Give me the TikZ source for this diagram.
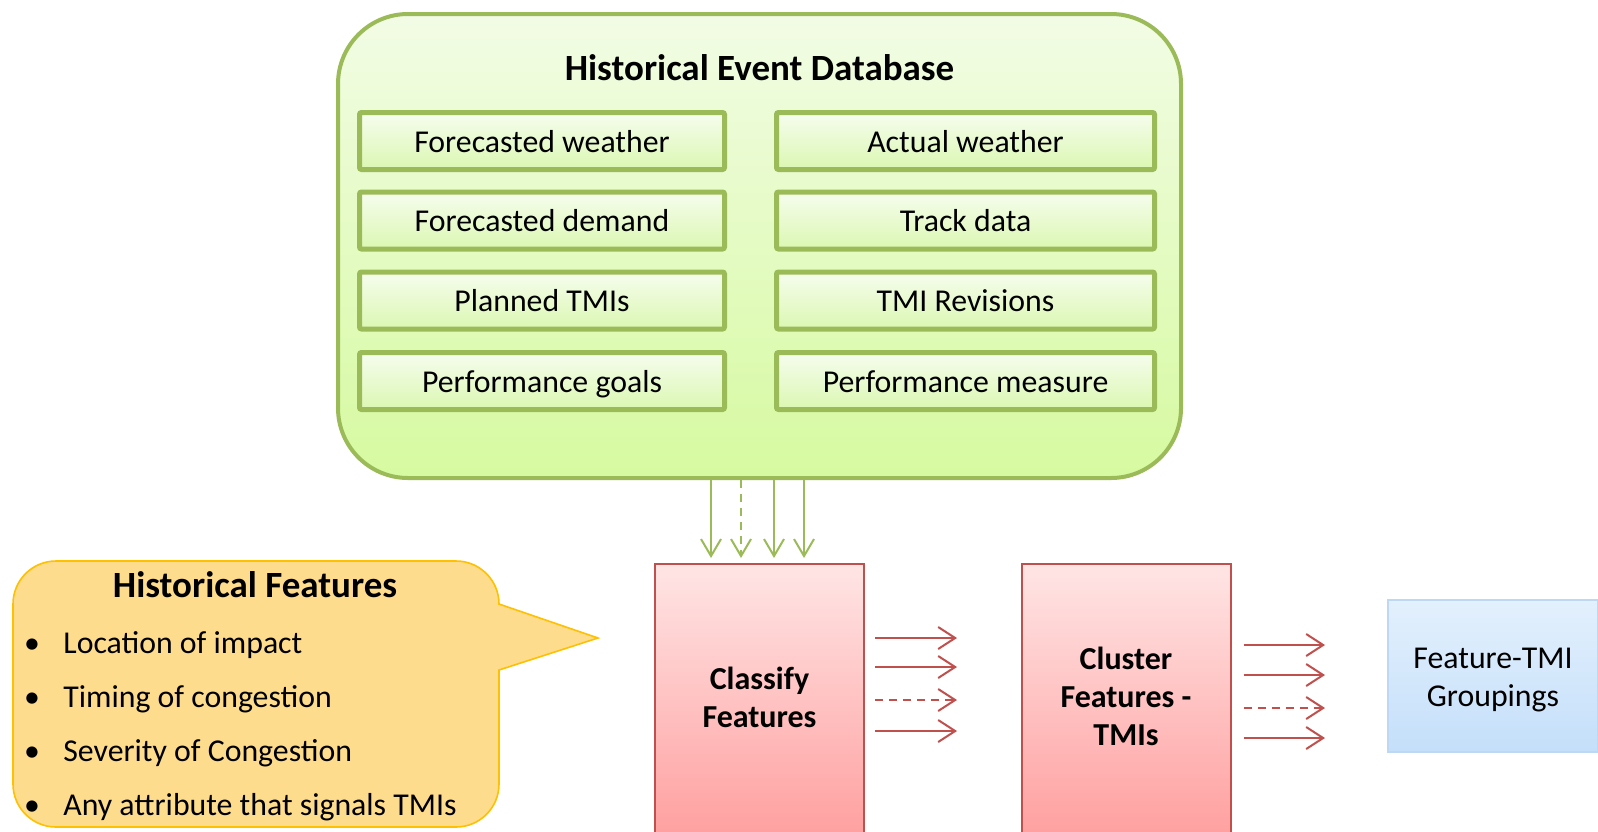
\documentclass[tikz,border=0pt]{standalone}
\usepackage{fontspec}
\setmainfont{Carlito}
\usetikzlibrary{arrows.meta}

\definecolor{gline}{RGB}{155,187,89}
\definecolor{dbtop}{RGB}{242,252,229}
\definecolor{dbbot}{RGB}{214,250,160}
\definecolor{itop}{RGB}{246,253,238}
\definecolor{ibot}{RGB}{219,247,178}
\definecolor{rline}{RGB}{192,80,77}
\definecolor{rtop}{RGB}{255,229,229}
\definecolor{rbot}{RGB}{255,160,160}
\definecolor{ofill}{RGB}{254,220,142}
\definecolor{oline}{RGB}{255,192,0}
\definecolor{bline}{RGB}{190,215,242}
\definecolor{btop}{RGB}{227,240,253}
\definecolor{bbot}{RGB}{196,223,250}

\tikzset{
  body/.style={font=\fontsize{15.9pt}{19pt}\selectfont},
  boldbody/.style={font=\fontsize{16pt}{19pt}\selectfont\bfseries},
  heading/.style={font=\fontsize{18.5pt}{22pt}\selectfont\bfseries, anchor=base},
  dbbox/.style={draw=gline, line width=2pt, rounded corners=35pt,
    top color=dbtop, bottom color=dbbot, minimum width=421.5pt, minimum height=232pt},
  itembox/.style={body, draw=gline, line width=2.5pt, rounded corners=1pt,
    top color=itop, bottom color=ibot, minimum height=28.5pt,
    text height=11pt, text depth=0pt, inner sep=0pt},
  leftbox/.style={itembox, minimum width=182.5pt},
  rightbox/.style={itembox, minimum width=189pt},
  procbox/.style={draw=rline, line width=1pt, top color=rtop, bottom color=rbot,
    minimum width=104.5pt, minimum height=135pt, inner sep=0pt},
  outbox/.style={draw=bline, line width=0.6pt, top color=btop, bottom color=bbot,
    minimum width=105pt, minimum height=76pt, inner sep=0pt},
  garrow/.style={draw=gline, line width=1pt, -{Straight Barb[length=8.5pt, width=10pt]}},
  rarrow/.style={draw=rline, line width=1pt, -{Straight Barb[length=8.5pt, width=11pt]}},
  bullet/.style={body, anchor=base},
  listtext/.style={body, anchor=base west, inner sep=0pt},
}

\begin{document}
\begin{tikzpicture}[x=0.5pt, y=-0.5pt]
\useasboundingbox (0,0) rectangle (1598,831);

% database frame and its title
\node[dbbox] (db) at (759.5,246) {};
\node[heading] (dbt) at (759.5,80) {Historical Event Database};

% data sources held in the database
\node[leftbox]  (fw) at (542,141)   {Forecasted weather};
\node[rightbox] (aw) at (965.5,141) {Actual weather};
\node[leftbox]  (fd) at (542,220.5) {Forecasted demand};
\node[rightbox] (td) at (965.5,220.5) {Track data};
\node[leftbox]  (pt) at (542,300.5) {Planned TMIs};
\node[rightbox] (tr) at (965.5,300.5) {TMI Revisions};
\node[leftbox]  (pg) at (542,381)   {Performance goals};
\node[rightbox] (pm) at (965.5,381) {Performance measure};

% processing stages
\node[procbox] (cf) at (759.5,699) {};
\node[boldbody, align=center] (cft) at ([yshift=1pt]cf.center) {Classify\\Features};
\node[procbox] (cl) at (1126,699) {};
\node[boldbody, align=center] (clt) at ([yshift=1.5pt]cl.center) {Cluster\\Features -\\TMIs};
\node[outbox] (ft) at (1493,676) {};
\node[body, align=center] (ftt) at ([yshift=-2pt]ft.center) {Feature-TMI\\Groupings};

% database feeds the classifier
\coordinate (g1) at (711,558);
\coordinate (g2) at (741,558);
\coordinate (g3) at (774,558);
\coordinate (g4) at (804,558);
\draw[garrow] (db.south -| g1) -- (g1);
\draw[garrow, dash pattern=on 4pt off 3pt] (db.south -| g2) -- (g2);
\draw[garrow] (db.south -| g3) -- (g3);
\draw[garrow] (db.south -| g4) -- (g4);

% classifier output
\coordinate (c1) at (957,638);
\coordinate (c2) at (957,667);
\coordinate (c3) at (957,700);
\coordinate (c4) at (957,731);
\draw[rarrow, shorten <=5pt] (cf.east |- c1) -- (c1);
\draw[rarrow, shorten <=5pt] (cf.east |- c2) -- (c2);
\draw[rarrow, shorten <=5pt, dash pattern=on 4pt off 3pt] (cf.east |- c3) -- (c3);
\draw[rarrow, shorten <=5pt] (cf.east |- c4) -- (c4);

% clustering output
\coordinate (k1) at (1325,645);
\coordinate (k2) at (1325,675);
\coordinate (k3) at (1325,708);
\coordinate (k4) at (1325,738);
\draw[rarrow, shorten <=6pt] (cl.east |- k1) -- (k1);
\draw[rarrow, shorten <=6pt] (cl.east |- k2) -- (k2);
\draw[rarrow, shorten <=6pt, dash pattern=on 4pt off 3pt] (cl.east |- k3) -- (k3);
\draw[rarrow, shorten <=6pt] (cl.east |- k4) -- (k4);

% speech-bubble callout listing the features
\draw[draw=oline, fill=ofill, line width=0.8pt]
  (13,604) arc[start angle=180, end angle=90, radius=21.5pt]
  -- (456,561) arc[start angle=90, end angle=0, radius=21.5pt]
  -- (598,638) -- (499,670) -- (499,784)
  arc[start angle=0, end angle=-90, radius=21.5pt]
  -- (56,827) arc[start angle=-90, end angle=-180, radius=21.5pt] -- cycle;
\node[heading] (hft) at (255,597) {Historical Features};
\node[bullet] (b1) at (32,653) {•};
\node[bullet] (b2) at (32,707) {•};
\node[bullet] (b3) at (32,761) {•};
\node[bullet] (b4) at (32,815) {•};
\node[listtext] (l1) at (63,653) {Location of impact};
\node[listtext] (l2) at (63,707) {Timing of congestion};
\node[listtext] (l3) at (63,761) {Severity of Congestion};
\node[listtext] (l4) at (63,815) {Any attribute that signals TMIs};
\end{tikzpicture}
\end{document}
